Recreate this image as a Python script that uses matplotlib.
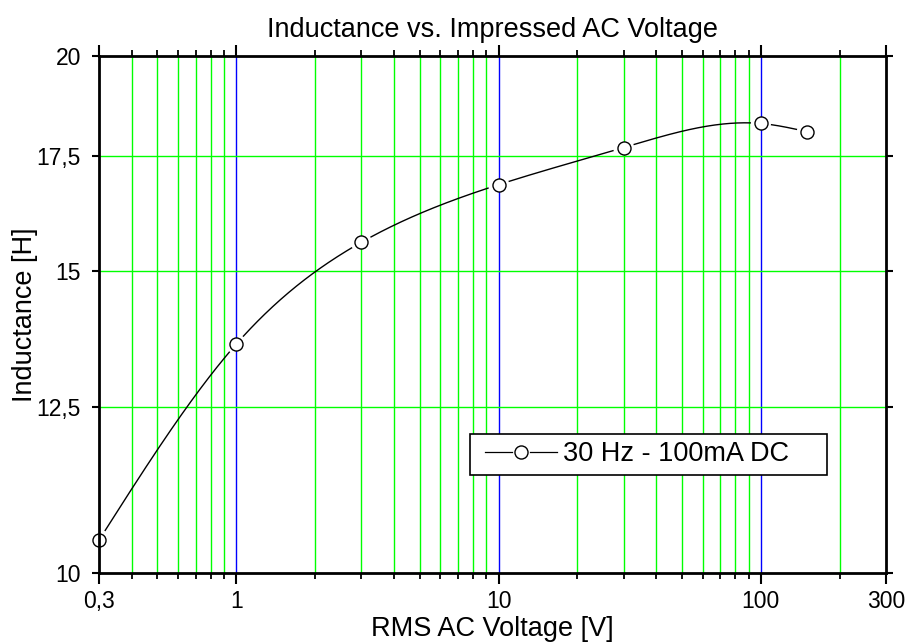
import numpy as np
import matplotlib
matplotlib.use("Agg")
import matplotlib.pyplot as plt
from matplotlib.lines import Line2D
from matplotlib.legend_handler import HandlerBase
from matplotlib.ticker import FixedLocator, NullFormatter, NullLocator

plt.rcParams['font.family'] = ['Liberation Sans', 'DejaVu Sans']

voltage = [0.3, 1, 3, 10, 30, 100, 150]
inductance = [10.45, 13.59, 15.58, 16.83, 17.69, 18.27, 18.07]
series_label = "30 Hz - 100mA DC"
x_major = [0.3, 1, 10, 100, 300]
x_major_labels = ["0,3", "1", "10", "100", "300"]
y_major = [10, 12.5, 15, 17.5, 20]
y_major_labels = ["10", "12,5", "15", "17,5", "20"]
decades = [1, 10, 100]
minor_x = [0.4, 0.5, 0.6, 0.7, 0.8, 0.9, 2, 3, 4, 5, 6, 7, 8, 9,
           20, 30, 40, 50, 60, 70, 80, 90, 200]


def natural_spline(xs, ys, xq):
    xs = np.asarray(xs, float); ys = np.asarray(ys, float)
    n = len(xs)
    h = np.diff(xs)
    A = np.zeros((n, n)); b = np.zeros(n)
    A[0, 0] = 1; A[-1, -1] = 1
    for i in range(1, n - 1):
        A[i, i - 1] = h[i - 1]
        A[i, i] = 2 * (h[i - 1] + h[i])
        A[i, i + 1] = h[i]
        b[i] = 3 * ((ys[i + 1] - ys[i]) / h[i] - (ys[i] - ys[i - 1]) / h[i - 1])
    c = np.linalg.solve(A, b)
    out = np.empty_like(xq)
    for k, x in enumerate(xq):
        i = min(max(np.searchsorted(xs, x) - 1, 0), n - 2)
        dx = x - xs[i]
        bi = (ys[i + 1] - ys[i]) / h[i] - h[i] * (2 * c[i] + c[i + 1]) / 3
        di = (c[i + 1] - c[i]) / (3 * h[i])
        out[k] = ys[i] + bi * dx + c[i] * dx ** 2 + di * dx ** 3
    return out


class GapHandler(HandlerBase):
    def create_artists(self, legend, orig_handle, xdescent, ydescent, width,
                       height, fontsize, trans):
        y = height / 2 - ydescent
        lead = 5.0
        x0 = -xdescent + lead
        x1 = -xdescent + width
        xm = (x0 + x1) / 2
        gap = 6.3
        l1 = Line2D([x0, xm - gap], [y, y], color='black', lw=0.9)
        l2 = Line2D([xm + gap, x1], [y, y], color='black', lw=0.9)
        mk = Line2D([xm], [y], ls='none', marker='o', ms=9.4, mfc='white',
                    mec='black', mew=1.0)
        for a in (l1, l2, mk):
            a.set_transform(trans)
        return [l1, l2, mk]


fig = plt.figure(figsize=(9.09, 6.44), dpi=100)
ax = fig.add_axes([99 / 909, 1 - 573 / 644, 787 / 909, 517 / 644])
ax.set_xscale('log')
ax.set_yscale('log')
ax.set_xlim(0.3, 300)
ax.set_ylim(10, 20)

for v in minor_x:
    ax.axvline(v, color='#00ff00', lw=1, zorder=1)
for v in decades:
    ax.axvline(v, color='#0000ff', lw=1, zorder=1)
for v in y_major[1:-1]:
    ax.axhline(v, color='#00ff00', lw=1, zorder=1)

# smooth curve in log-x, log-y space
lx = np.log10(voltage); ly = np.log10(inductance)
xq = np.linspace(lx[0], lx[-1], 800)
yq = natural_spline(lx, ly, xq)
cx = 10 ** xq; cy = 10 ** yq

fig.canvas.draw()
disp_pts = ax.transData.transform(np.column_stack([cx, cy]))
mk_pts = ax.transData.transform(np.column_stack([voltage, inductance]))
mask = np.zeros(len(cx), bool)
for p in mk_pts:
    mask |= np.hypot(disp_pts[:, 0] - p[0], disp_pts[:, 1] - p[1]) < 10.5
cyg = cy.copy(); cyg[mask] = np.nan
ax.plot(cx, cyg, color='black', lw=1.0, zorder=3)
ax.plot(voltage, inductance, ls='none', marker='o', ms=9.4, mfc='white',
        mec='black', mew=1.0, zorder=4, clip_on=False)

ax.set_xticks(x_major)
ax.set_xticklabels(x_major_labels)
ax.xaxis.set_minor_locator(FixedLocator(minor_x))
ax.xaxis.set_minor_formatter(NullFormatter())
ax.set_yticks(y_major)
ax.set_yticklabels(y_major_labels)
ax.yaxis.set_minor_locator(NullLocator())
ax.yaxis.set_minor_formatter(NullFormatter())

ax.tick_params(axis='x', which='major', direction='out', length=8, width=1.5,
               top=True, labelsize=16.5, pad=4, color='black')
ax.tick_params(axis='x', which='minor', direction='out', length=4.3, width=1.3,
               top=True, color='black')
ax.tick_params(axis='y', which='major', direction='out', length=5, width=1.5,
               right=True, labelsize=16.5, pad=8, color='black')
for s in ax.spines.values():
    s.set_linewidth(2)
    s.set_zorder(5)

ax.set_title("Inductance vs. Impressed AC Voltage", fontsize=19.5, pad=14)
ax.set_xlabel("RMS AC Voltage [V]", fontsize=19.5, va='top')
ax.xaxis.set_label_coords(0.5, -0.083)
ax.set_ylabel("Inductance [H]", fontsize=19.5)
ax.yaxis.set_label_coords(-0.0775, 0.5)

leg = ax.legend([object()], [series_label],
                handler_map={object: GapHandler()},
                loc='lower left', mode='expand',
                bbox_to_anchor=(371 / 787, 98 / 517, 357 / 787, 0.0),
                borderaxespad=0, fontsize=19.5, handlelength=2.95,
                handletextpad=0.22, borderpad=0.28, fancybox=False,
                framealpha=1, edgecolor='black')
leg.get_frame().set_linewidth(1.2)
leg.set_zorder(6)

fig.savefig("out.png", dpi=100)
